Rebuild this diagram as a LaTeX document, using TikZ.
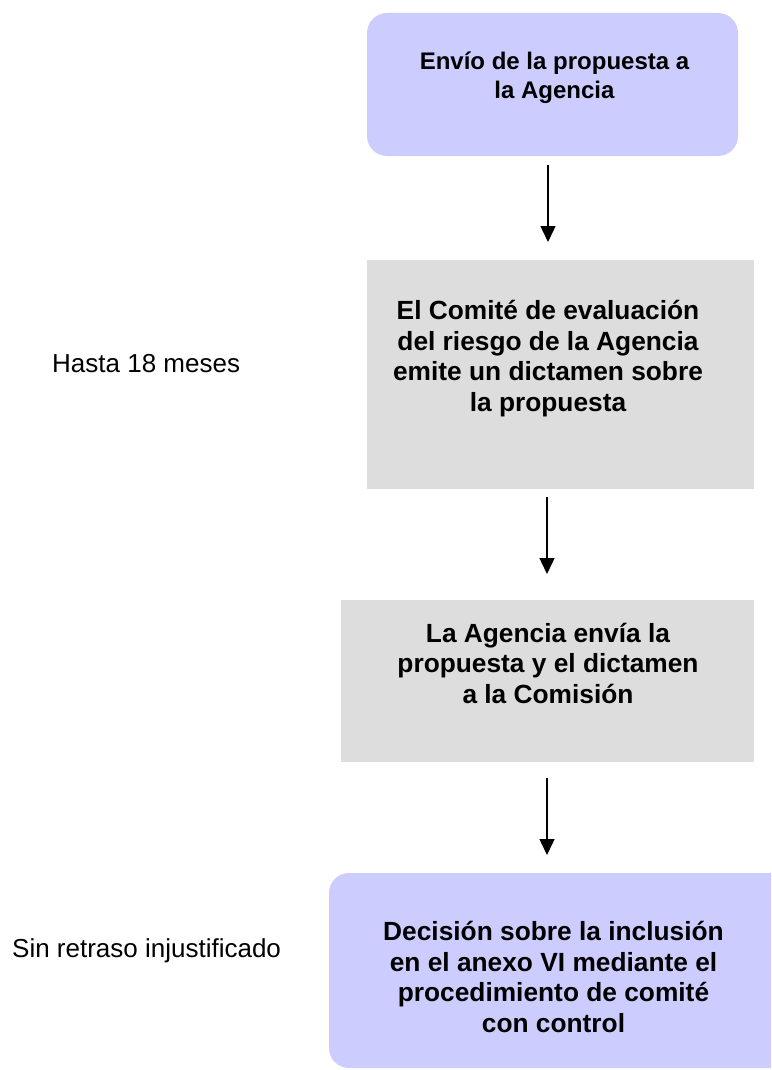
\documentclass[tikz,border=0pt]{standalone}
\usepackage{fontspec}
\setmainfont{Liberation Sans}
\usetikzlibrary{arrows.meta}
\definecolor{lav}{HTML}{CCCCFF}
\definecolor{grayfill}{HTML}{DDDDDD}
\tikzset{
  lavbox/.style={fill=lav, draw=none, rounded corners=20pt},
  graybox/.style={fill=grayfill, draw=none},
  boxtext/.style={align=center, inner sep=0pt, anchor=base, font=\bfseries\fontsize{26}{29}\selectfont},
  sidetext/.style={inner sep=0pt, anchor=base west, font=\fontsize{26}{30}\selectfont},
  arr/.style={line width=1.4pt, -{Triangle[width=15pt,length=16pt]}}
}
\begin{document}
\begin{tikzpicture}[x=1pt,y=-1pt]
\useasboundingbox (0,0) rectangle (771,1070);
\clip (0,0) rectangle (771,1070);
% boxes
\path[lavbox] (367,13) rectangle (738,156);
\node[inner sep=0pt, minimum width=371pt, minimum height=143pt] (b1) at (552.5,84.5) {};
\path[graybox] (367,260) rectangle (754,489);
\node[inner sep=0pt, minimum width=387pt, minimum height=229pt] (b2) at (560.5,374.5) {};
\path[graybox] (341,600) rectangle (754,762);
\node[inner sep=0pt, minimum width=413pt, minimum height=162pt] (b3) at (547.5,681) {};
\path[lavbox] (329,873) rectangle (820,1068);
\node[inner sep=0pt, minimum width=442pt, minimum height=195pt] (b4) at (550,970.5) {};
% texts (anchor = baseline of last line)
\node[boxtext, font=\bfseries\fontsize{24}{29}\selectfont] (t1) at (554.5,99) {Envío de la propuesta a\\la Agencia};
\node[boxtext, font=\bfseries\fontsize{26.3}{30.5}\selectfont] (t2) at (548,411) {El Comité de evaluación\\del riesgo de la Agencia\\emite un dictamen sobre\\la propuesta};
\node[boxtext, font=\bfseries\fontsize{26.3}{30.5}\selectfont] (t3) at (548,703) {La Agencia envía la\\propuesta y el dictamen\\a la Comisión};
\node[boxtext, font=\bfseries\fontsize{26.3}{30.5}\selectfont] (t4) at (553.5,1032) {Decisión sobre la inclusión\\en el anexo VI mediante el\\procedimiento de comité\\con control};
\node[sidetext] (l1) at (52,372) {Hasta 18 meses};
\node[sidetext] (l2) at (12,957) {Sin retraso injustificado};
% arrows
\coordinate (a1s) at (548,165);
\coordinate (a1e) at (548,242);
\coordinate (a2s) at (547,497);
\coordinate (a2e) at (547,574);
\coordinate (a3s) at (547,778);
\coordinate (a3e) at (547,855);
\draw[arr] (a1s) -- (a1e);
\draw[arr] (a2s) -- (a2e);
\draw[arr] (a3s) -- (a3e);
\end{tikzpicture}
\end{document}
